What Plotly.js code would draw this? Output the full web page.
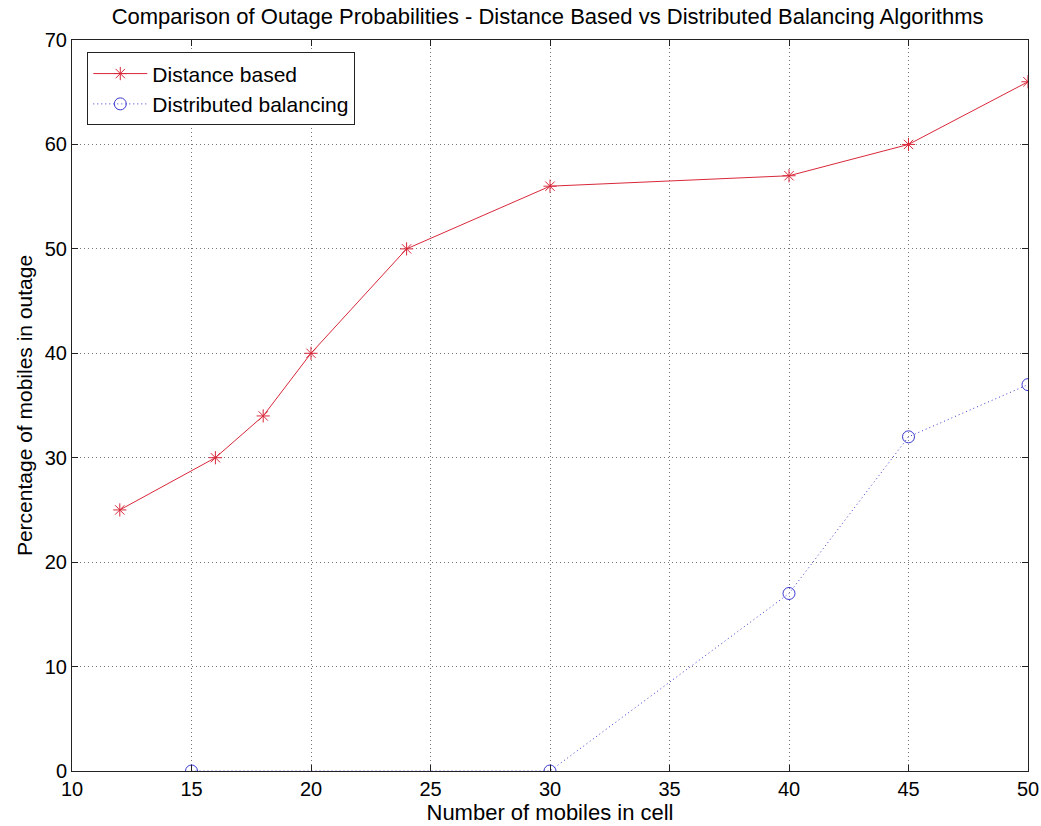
<!DOCTYPE html>
<html>
<head>
<meta charset="utf-8">
<script src="https://cdn.plot.ly/plotly-3.0.1.min.js"></script>
<style>html,body{margin:0;padding:0;background:#fff;}#chart{width:1041px;height:826px;}</style>
</head>
<body>
<div id="chart"></div>
<script>
const distX = [12, 16, 18, 20, 24, 30, 40, 45, 50];
const distY = [25, 30, 34, 40, 50, 56, 57, 60, 66];
const balX = [15, 30, 40, 45, 50];
const balY = [0, 0, 17, 32, 37];
const xTicks = [10, 15, 20, 25, 30, 35, 40, 45, 50];
const yTicks = [0, 10, 20, 30, 40, 50, 60, 70];

const font = "Liberation Sans, Arial, sans-serif";
const traces = [
  {x: distX, y: distY, type: 'scatter', mode: 'lines+markers', name: 'Distance based',
   line: {color: '#d8283a', width: 1},
   marker: {symbol: 'asterisk-open', size: 11, color: '#d8283a', line: {color: '#d8283a', width: 1}}},
  {x: balX, y: balY, type: 'scatter', mode: 'lines+markers', name: 'Distributed balancing',
   line: {color: '#3a3ad0', width: 1, dash: '1px,3px'},
   marker: {symbol: 'circle-open', size: 12, color: '#3a3ad0', line: {color: '#3a3ad0', width: 1}}}
];
const axisCommon = {
  showline: true, linecolor: '#222', linewidth: 1, mirror: 'ticks',
  ticks: 'inside', ticklen: 6, tickcolor: '#222',
  showgrid: true, gridcolor: '#777', griddash: '1px,3px', gridwidth: 1,
  zeroline: false, tickfont: {family: font, size: 20, color: '#000'}
};
const layout = {
  width: 1041, height: 826,
  margin: {l: 72, r: 13, t: 40, b: 55},
  paper_bgcolor: '#fff', plot_bgcolor: '#fff',
  font: {family: font, color: '#000'},
  title: {text: 'Comparison of Outage Probabilities - Distance Based vs Distributed Balancing Algorithms',
          font: {family: font, size: 22, color: '#000'}, x: 0.526, xanchor: 'center', y: 0.99, yanchor: 'top'},
  xaxis: Object.assign({}, axisCommon, {range: [10, 50], tickvals: xTicks,
    title: {text: 'Number of mobiles in cell', font: {family: font, size: 22}, standoff: 2}}),
  yaxis: Object.assign({}, axisCommon, {range: [0, 70], tickvals: yTicks,
    title: {text: 'Percentage of mobiles in outage', font: {family: font, size: 21}, standoff: 6}}),
  legend: {x: 0.016, y: 0.983, xanchor: 'left', yanchor: 'top', bgcolor: '#fff',
    bordercolor: '#222', borderwidth: 1, font: {family: font, size: 21}, tracegroupgap: 0, itemwidth: 54},
  showlegend: true
};
Plotly.newPlot('chart', traces, layout, {displayModeBar: false, staticPlot: true});
</script>
</body>
</html>
